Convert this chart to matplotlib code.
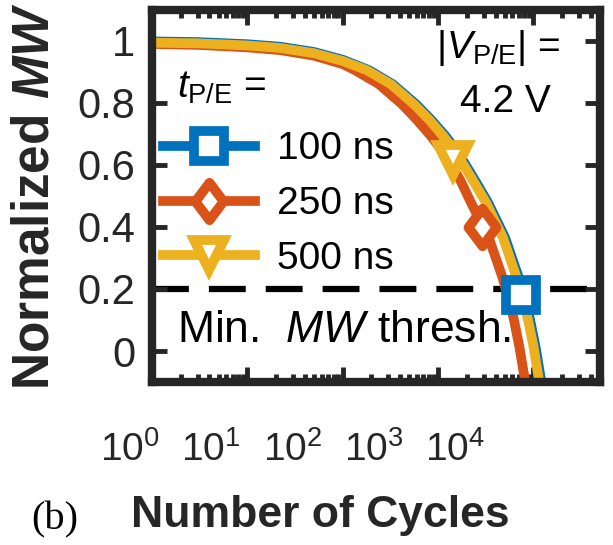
import matplotlib
matplotlib.use('Agg')
import matplotlib.pyplot as plt
import matplotlib.transforms as mtransforms
from matplotlib.lines import Line2D
from matplotlib.path import Path
from matplotlib.ticker import LogLocator, NullFormatter, NullLocator

plt.rcParams['font.family'] = ['Liberation Sans', 'DejaVu Sans']
plt.rcParams['mathtext.fontset'] = 'custom'
plt.rcParams['mathtext.rm'] = 'Liberation Sans'
plt.rcParams['mathtext.it'] = 'Liberation Sans:italic'
plt.rcParams['mathtext.bf'] = 'Liberation Sans:bold'
plt.rcParams['mathtext.bfit'] = 'Liberation Sans:italic:bold'

# values
cycles_100 = [1, 3, 10, 22, 50, 100, 190, 335, 590, 850, 1180, 1630, 2420, 3320,
              5050, 6950, 7800, 9150, 10500, 12100]
mw_100 = [0.998, 0.996, 0.989, 0.981, 0.964, 0.939, 0.905, 0.86, 0.795, 0.745,
          0.695, 0.639, 0.552, 0.48, 0.365, 0.24, 0.185, 0.105, 0.015, -0.1]

cycles_250 = [1, 3, 10, 22, 50, 100, 135, 240, 420, 600, 830, 1150, 1700, 2200,
              3400, 4700, 5300, 6200, 7100, 8200]
mw_250 = [0.99, 0.987, 0.979, 0.97, 0.952, 0.925, 0.905, 0.86, 0.795, 0.745,
          0.695, 0.639, 0.552, 0.48, 0.365, 0.24, 0.185, 0.105, 0.015, -0.1]

cycles_500 = [1, 3, 10, 22, 50, 100, 180, 320, 560, 810, 1120, 1550, 2300, 3160,
              4800, 6600, 7400, 8700, 10000, 11500]
mw_500 = [0.994, 0.992, 0.985, 0.977, 0.96, 0.935, 0.905, 0.86, 0.795, 0.745,
          0.695, 0.639, 0.552, 0.48, 0.365, 0.24, 0.185, 0.105, 0.015, -0.1]

# one marker per curve
marker_cycles = [7400, 2900, 1450]
marker_mw = [0.18, 0.40, 0.615]

labels = ['100 ns', '250 ns', '500 ns']
colors = ['#0072BD', '#D95319', '#EDB120']
mw_threshold = 0.2

xtick_vals = [1, 10, 100, 1000, 10000]
xtick_labels = [r'$10^{0}$', r'$10^{1}$', r'$10^{2}$', r'$10^{3}$', r'$10^{4}$']
ytick_vals = [0, 0.2, 0.4, 0.6, 0.8, 1]
ytick_labels = ['0', '0.2', '0.4', '0.6', '0.8', '1']

dark = '#262626'

# MATLAB-style tall diamond
diamond = Path([(0, 1), (0.75, 0), (0, -1), (-0.75, 0), (0, 1)],
               [Path.MOVETO, Path.LINETO, Path.LINETO, Path.LINETO, Path.CLOSEPOLY])
markers = ['s', diamond, 'v']
msizes = [21, 27, 21]

fig = plt.figure(figsize=(6.13, 5.45), dpi=100)
ax = fig.add_axes([0.248, 0.299, 0.731, 0.683])
ax.set_xscale('log')

series = [(cycles_100, mw_100), (cycles_250, mw_250), (cycles_500, mw_500)]
for (cyc, mw), c in zip(series, colors):
    ax.plot(cyc, mw, color=c, lw=7, solid_capstyle='butt', solid_joinstyle='round', zorder=2)

for mc, mv, m, ms, c in zip(marker_cycles, marker_mw, markers, msizes, colors):
    ax.plot([mc], [mv], ls='none', marker=m, ms=ms, mfc='white', mec=c, mew=7, zorder=4)

ax.axhline(mw_threshold, color='black', lw=4.5, ls=(0, (5.9, 3.2)), zorder=1.5)

ax.set_xlim(1, 5e4)
ax.set_ylim(-0.1, 1.1)

for s in ax.spines.values():
    s.set_linewidth(6)
    s.set_color(dark)
    s.set_zorder(3)

ax.set_xticks(xtick_vals)
ax.set_xticklabels(xtick_labels)
ax.xaxis.set_minor_locator(LogLocator(base=10, subs=range(2, 10), numticks=20))
ax.xaxis.set_minor_formatter(NullFormatter())
ax.set_yticks(ytick_vals)
ax.set_yticklabels(ytick_labels)
ax.yaxis.set_minor_locator(NullLocator())

ax.tick_params(which='both', direction='in', top=True, right=True, color=dark, width=3.5)
ax.tick_params(which='major', length=11)
ax.tick_params(which='minor', length=6)
ax.tick_params(axis='x', which='major', labelsize=28, pad=35, labelcolor=dark)
ax.tick_params(axis='y', labelsize=30, pad=12, labelcolor=dark)

ax.set_xlabel('Number of Cycles', fontsize=32, fontweight='bold', color=dark)
ax.xaxis.set_label_coords(0.375, -0.303)
fig.text(35 / 613, 0.640, r'Normalized $\mathbfit{MW}$', fontsize=37, fontweight='bold',
         color=dark, rotation=90, ha='center', va='center')

handles = [Line2D([], [], color=c, lw=7, marker=m, ms=ms, mfc='white', mec=c, mew=7)
           for c, m, ms in zip(colors, markers, msizes)]
ax.legend(handles, labels, loc='center left', bbox_to_anchor=(0.0246, 0.478),
          frameon=False, fontsize=28, handlelength=2.36, handletextpad=0.57,
          labelspacing=0.48, borderpad=0, borderaxespad=0)

ax.text(0.056, 0.763, r'$t_{\mathrm{P/E}}$ =', fontsize=28, transform=ax.transAxes,
        ha='left', va='baseline')
ax.text(0.772, 0.871, r'$|V_{\mathrm{P/E}}|$ =', fontsize=28, transform=ax.transAxes,
        ha='center', va='baseline')
ax.text(0.788, 0.726, '4.2 V', fontsize=28, transform=ax.transAxes,
        ha='center', va='baseline')
ax.text(0.056, 0.1075, r'Min.  $MW$ thresh.', fontsize=32, transform=ax.transAxes,
        ha='left', va='baseline')

fig.text(55 / 613, 0.046, '(b)', fontfamily='Liberation Serif', fontsize=29,
         ha='center', va='center')

# the x tick labels sit left of their ticks in the reference
for k, lab in enumerate(ax.get_xticklabels()):
    dx = (-22 - 14.2 * k) / 100
    lab.set_transform(lab.get_transform() +
                      mtransforms.ScaledTranslation(dx, 0, fig.dpi_scale_trans))

fig.savefig('out.png', dpi=100)
